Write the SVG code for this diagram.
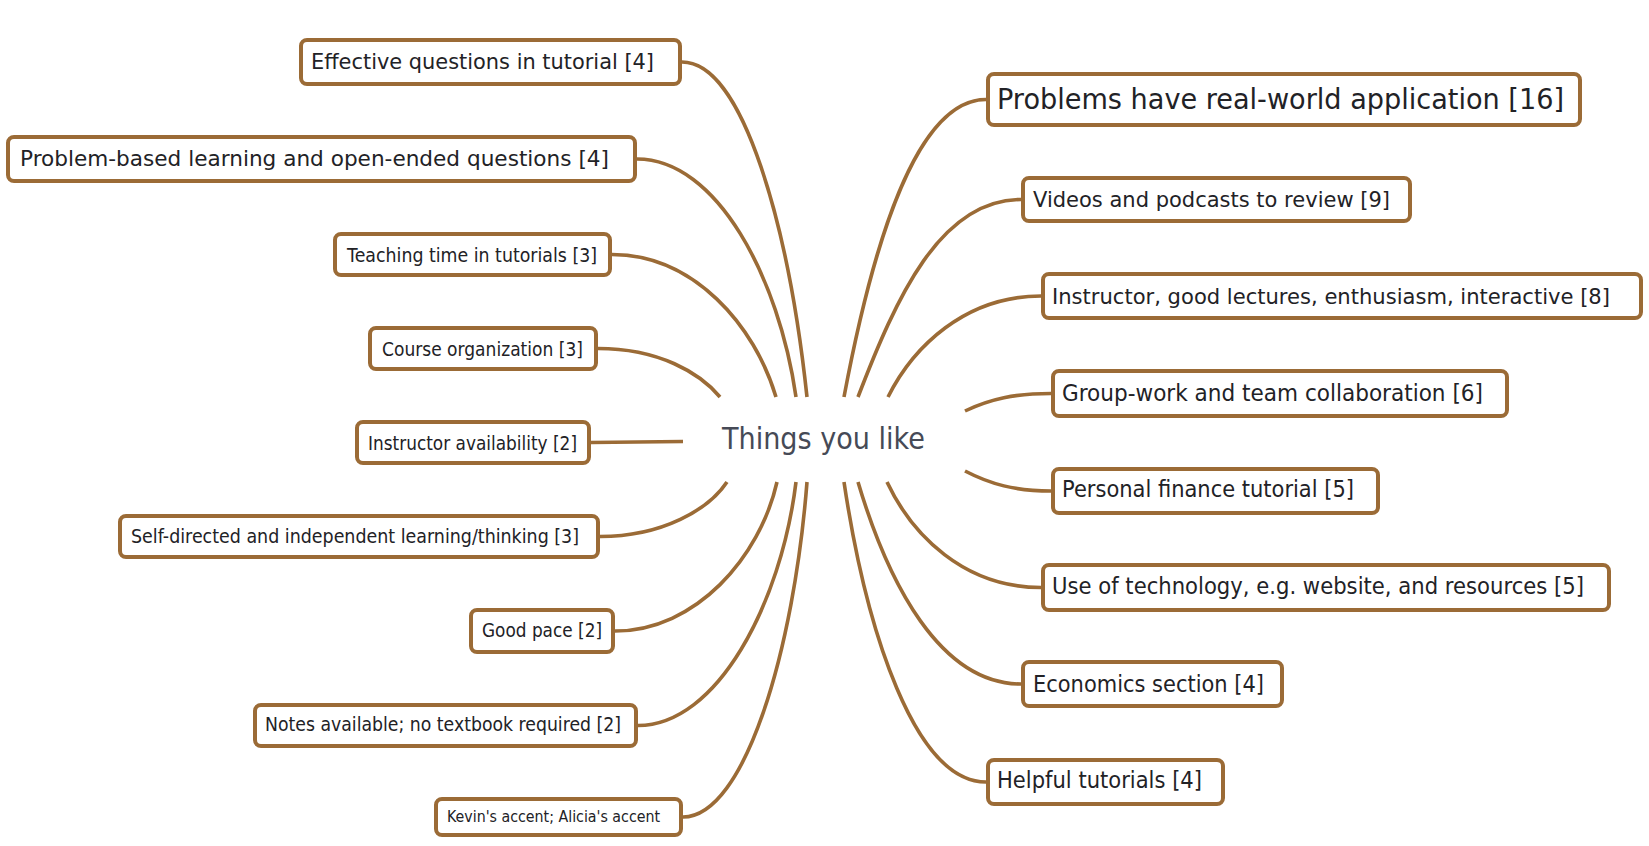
<svg xmlns="http://www.w3.org/2000/svg" width="1649" height="846" viewBox="0 0 1649 846">
<style>
.box{fill:#ffffff;stroke:#9b6b36;stroke-width:4}
.c{fill:none;stroke:#9b6b36;stroke-width:3.6}
.t{font-family:"DejaVu Sans","Liberation Sans",sans-serif;fill:#222226}
.root{font-family:"DejaVu Sans","Liberation Sans",sans-serif;fill:#464a56;font-size:30px}
</style>
<rect width="1649" height="846" fill="#ffffff"/>
<g id="connectors">
<path class="c" d="M807,397 C789,230 744,62 682,62"/>
<path class="c" d="M796,397 C779,278 717,159 637,159"/>
<path class="c" d="M776,397 C755,326 694,254.5 612,254.5"/>
<path class="c" d="M720,397 C700,373 659,348.5 598,348.5"/>
<path class="c" d="M683,441.5 L591,442.5"/>
<path class="c" d="M727,482 C709,509 663,536.5 600,536.5"/>
<path class="c" d="M777,482 C760,557 696,631 615,631"/>
<path class="c" d="M796,482 C781,604 717,725.5 638,725.5"/>
<path class="c" d="M807,482 C794,649 745,817 683,817"/>
<path class="c" d="M844,397 C872,248 915,99.5 986,99.5"/>
<path class="c" d="M858,397 C896,298 940,199.5 1021,199.5"/>
<path class="c" d="M888,397 C913,347 965,296 1041,296"/>
<path class="c" d="M965,411 C990,399 1015,393.5 1051,393.5"/>
<path class="c" d="M965,471 C990,484 1015,491 1051,491"/>
<path class="c" d="M887,482 C912,535 964,587.5 1041,587.5"/>
<path class="c" d="M858,482 C888,583 940,684 1021,684"/>
<path class="c" d="M844,482 C866.5,632 915,782 986,782"/>
</g>
<g id="root"><text class="root" x="722" y="449" textLength="203" lengthAdjust="spacingAndGlyphs">Things you like</text></g>
<g id="n-effective"><rect class="box" x="301" y="40" width="379" height="44" rx="6"/><text class="t" x="311" y="69" font-size="22" textLength="343" lengthAdjust="spacingAndGlyphs">Effective questions in tutorial [4]</text></g>
<g id="n-problem-based"><rect class="box" x="8" y="137" width="627" height="44" rx="6"/><text class="t" x="20" y="166" font-size="22" textLength="589" lengthAdjust="spacingAndGlyphs">Problem-based learning and open-ended questions [4]</text></g>
<g id="n-teaching"><rect class="box" x="335" y="234" width="275" height="41" rx="6"/><text class="t" x="347" y="262" font-size="19.5" textLength="250" lengthAdjust="spacingAndGlyphs">Teaching time in tutorials [3]</text></g>
<g id="n-course"><rect class="box" x="370" y="328" width="226" height="41" rx="6"/><text class="t" x="382" y="356" font-size="19.5" textLength="201" lengthAdjust="spacingAndGlyphs">Course organization [3]</text></g>
<g id="n-instructor-avail"><rect class="box" x="357" y="422" width="232" height="41" rx="6"/><text class="t" x="368" y="450" font-size="19.5" textLength="209" lengthAdjust="spacingAndGlyphs">Instructor availability [2]</text></g>
<g id="n-self"><rect class="box" x="120" y="516" width="478" height="41" rx="6"/><text class="t" x="131" y="543" font-size="20" textLength="448" lengthAdjust="spacingAndGlyphs">Self-directed and independent learning/thinking [3]</text></g>
<g id="n-pace"><rect class="box" x="471" y="610" width="142" height="42" rx="6"/><text class="t" x="482" y="637" font-size="19.5" textLength="120" lengthAdjust="spacingAndGlyphs">Good pace [2]</text></g>
<g id="n-notes"><rect class="box" x="255" y="705" width="381" height="41" rx="6"/><text class="t" x="265" y="731" font-size="19.5" textLength="356" lengthAdjust="spacingAndGlyphs">Notes available; no textbook required [2]</text></g>
<g id="n-accent"><rect class="box" x="436" y="799" width="245" height="36" rx="6"/><text class="t" x="447" y="822" font-size="16" textLength="213" lengthAdjust="spacingAndGlyphs">Kevin's accent; Alicia's accent</text></g>
<g id="n-realworld"><rect class="box" x="988" y="74" width="592" height="51" rx="6"/><text class="t" x="997" y="109" font-size="28" textLength="567" lengthAdjust="spacingAndGlyphs">Problems have real-world application [16]</text></g>
<g id="n-videos"><rect class="box" x="1023" y="178" width="387" height="43" rx="6"/><text class="t" x="1033" y="207" font-size="22" textLength="357" lengthAdjust="spacingAndGlyphs">Videos and podcasts to review [9]</text></g>
<g id="n-instructor"><rect class="box" x="1043" y="274" width="598" height="44" rx="6"/><text class="t" x="1052" y="304" font-size="22" textLength="558" lengthAdjust="spacingAndGlyphs">Instructor, good lectures, enthusiasm, interactive [8]</text></g>
<g id="n-group"><rect class="box" x="1053" y="371" width="454" height="45" rx="6"/><text class="t" x="1062" y="401" font-size="22.5" textLength="421" lengthAdjust="spacingAndGlyphs">Group-work and team collaboration [6]</text></g>
<g id="n-finance"><rect class="box" x="1053" y="469" width="325" height="44" rx="6"/><text class="t" x="1062" y="497" font-size="22.5" textLength="292" lengthAdjust="spacingAndGlyphs">Personal finance tutorial [5]</text></g>
<g id="n-technology"><rect class="box" x="1043" y="565" width="566" height="45" rx="6"/><text class="t" x="1052" y="594" font-size="22.5" textLength="532" lengthAdjust="spacingAndGlyphs">Use of technology, e.g. website, and resources [5]</text></g>
<g id="n-economics"><rect class="box" x="1023" y="662" width="259" height="44" rx="6"/><text class="t" x="1033" y="692" font-size="22.5" textLength="231" lengthAdjust="spacingAndGlyphs">Economics section [4]</text></g>
<g id="n-helpful"><rect class="box" x="988" y="760" width="235" height="44" rx="6"/><text class="t" x="997" y="788" font-size="22.5" textLength="205" lengthAdjust="spacingAndGlyphs">Helpful tutorials [4]</text></g>
</svg>
